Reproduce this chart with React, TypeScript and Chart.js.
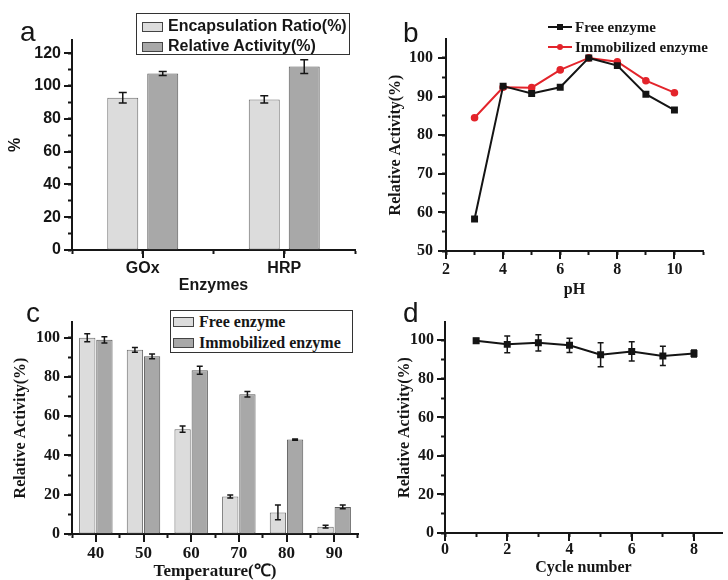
import React, { useEffect, useRef } from 'react';
import { Chart, registerables } from 'chart.js';

Chart.register(...registerables);

const ARIAL = '"Liberation Sans", Arial, sans-serif';
const TIMES = '"Liberation Serif", "Times New Roman", serif';
const INK = '#161616';

// ---------- Panel a ----------
const enzymes = ['GOx', 'HRP'];
const encapsulation = [92.8, 91.8];
const encapsulationErr = [3.2, 2.2];
const relActivityA = [107.6, 111.8];
const relActivityAErr = [1.2, 4.2];

// ---------- Panel b ----------
const pHValues = [3, 4, 5, 6, 7, 8, 9, 10];
const freeByPH = [58.3, 92.7, 90.8, 92.4, 100, 98.0, 90.6, 86.5];
const immobByPH = [84.5, 92.4, 92.3, 96.9, 100, 99.0, 94.1, 91.0];

// ---------- Panel c ----------
const temperatures = ['40', '50', '60', '70', '80', '90'];
const freeByT = [100, 93.8, 53.4, 19.1, 11.0, 3.7];
const freeByTErr = [2.0, 1.2, 1.6, 0.8, 3.8, 0.7];
const immobByT = [98.9, 90.5, 83.4, 71.2, 48.1, 13.8];
const immobByTErr = [1.6, 1.2, 2.0, 1.4, 0.3, 1.0];

// ---------- Panel d ----------
const cycles = [1, 2, 3, 4, 5, 6, 7, 8];
const reuseActivity = [99.8, 97.9, 98.7, 97.4, 92.5, 94.2, 91.9, 93.2];
const reuseErr = [1.2, 4.3, 4.2, 3.7, 6.2, 5.0, 5.0, 1.8];

// spread two categories over a 5-slot axis: '', A, '', B, ''
const spread = (arr: any[], empty: any) => {
  const out: any[] = [empty];
  arr.forEach((v) => { out.push(v); out.push(empty); });
  return out;
};

const MINOR = 4;
const MAJOR = 8;

function makeDecor(cap: number) {
  return {
    id: 'decor',
    afterDatasetsDraw(chart: any) {
      const ctx = chart.ctx;
      ctx.save();
      ctx.strokeStyle = INK;
      ctx.lineWidth = 1.5;
      // error bars
      chart.data.datasets.forEach((ds: any, di: number) => {
        if (!ds.errors) return;
        const meta = chart.getDatasetMeta(di);
        const ys = chart.scales[meta.yAxisID];
        meta.data.forEach((el: any, i: number) => {
          const err = ds.errors[i];
          const parsed = meta.controller.getParsed(i);
          if (err == null || !parsed || parsed.y == null || isNaN(parsed.y)) return;
          const x = el.x;
          const top = ys.getPixelForValue(parsed.y + err);
          const bot = ys.getPixelForValue(parsed.y - err);
          ctx.beginPath();
          ctx.moveTo(x, top); ctx.lineTo(x, bot);
          ctx.moveTo(x - cap, top); ctx.lineTo(x + cap, top);
          ctx.moveTo(x - cap, bot); ctx.lineTo(x + cap, bot);
          ctx.stroke();
        });
      });
      // longer tick marks where a label is shown
      ctx.fillStyle = INK;
      const xs = chart.scales.x;
      const ysc = chart.scales.y;
      (xs.ticks || []).forEach((t: any) => {
        if (t.label === '' || t.label == null) return;
        const p = xs.getPixelForValue(t.value);
        ctx.fillRect(Math.round(p) - 1, xs.top, 2, MAJOR);
      });
      (ysc.ticks || []).forEach((t: any) => {
        if (t.label === '' || t.label == null) return;
        const p = ysc.getPixelForValue(t.value);
        ctx.fillRect(ysc.right - MAJOR, Math.round(p) - 1, MAJOR, 2);
      });
      ctx.restore();
    },
  };
}

const border = { display: true, color: INK, width: 2 };
// native short tick marks outside the plot area
const tickGrid = (offset?: boolean) => ({
  display: true,
  drawOnChartArea: false,
  drawTicks: true,
  tickLength: MINOR,
  tickWidth: 2,
  tickColor: INK,
  color: 'rgba(0,0,0,0)',
  ...(offset === undefined ? {} : { offset }),
});
const font = (family: string, size: number) => ({ family, size, weight: 'bold' as const });

function base(padding: any) {
  return {
    responsive: false,
    animation: false,
    layout: { padding },
    plugins: {
      legend: { display: false },
      tooltip: { enabled: false },
    },
  };
}

const configA = () => ({
  type: 'bar',
  data: {
    labels: spread(enzymes, ''),
    datasets: [
      {
        label: 'Encapsulation Ratio(%)',
        data: spread(encapsulation, null),
        errors: spread(encapsulationErr, null),
        backgroundColor: '#dcdcdc',
        borderColor: '#6a6a6a',
        borderWidth: 1,
        borderSkipped: false,
        categoryPercentage: 1.13,
        barPercentage: 0.775,
      },
      {
        label: 'Relative Activity(%)',
        data: spread(relActivityA, null),
        errors: spread(relActivityAErr, null),
        backgroundColor: '#a8a8a8',
        borderColor: '#5a5a5a',
        borderWidth: 1,
        borderSkipped: false,
        categoryPercentage: 1.13,
        barPercentage: 0.775,
      },
    ],
  },
  options: {
    ...base({ left: 0, top: 40, right: 373, bottom: 285 }),
    scales: {
      x: {
        type: 'category',
        offset: false,
        grid: tickGrid(false),
        border,
        ticks: { autoSkip: false, maxRotation: 0, padding: 5, color: INK, font: font(ARIAL, 16) },
        title: { display: true, text: 'Enzymes', color: INK, font: font(ARIAL, 16), padding: { top: 0, bottom: 0 } },
        afterFit: (s: any) => { s.height = 45; },
      },
      y: {
        min: 0,
        max: 128,
        grid: tickGrid(),
        border,
        ticks: {
          stepSize: 10,
          includeBounds: false,
          autoSkip: false,
          padding: 7,
          color: INK,
          font: font(ARIAL, 16),
          callback: (v: number) => (v % 20 === 0 ? String(v) : ''),
        },
        title: { display: true, text: '%', color: INK, font: font(ARIAL, 16), padding: { top: 6, bottom: 0 } },
        afterFit: (s: any) => { s.width = 72; },
      },
    },
  },
  plugins: [makeDecor(4)],
});

const configB = () => ({
  type: 'line',
  data: {
    datasets: [
      {
        label: 'Free enzyme',
        data: pHValues.map((x, i) => ({ x, y: freeByPH[i] })),
        borderColor: '#141414',
        backgroundColor: '#141414',
        borderWidth: 2,
        pointStyle: 'rect',
        pointRadius: 3.5,
        tension: 0,
      },
      {
        label: 'Immobilized enzyme',
        data: pHValues.map((x, i) => ({ x, y: immobByPH[i] })),
        borderColor: '#e3242b',
        backgroundColor: '#e3242b',
        borderWidth: 2,
        pointStyle: 'circle',
        pointRadius: 2.8,
        tension: 0,
      },
    ],
  },
  options: {
    ...base({ left: 386, top: 39, right: 25, bottom: 281 }),
    scales: {
      x: {
        type: 'linear',
        min: 2,
        max: 11,
        grid: tickGrid(),
        border,
        ticks: {
          stepSize: 1,
          autoSkip: false,
          maxRotation: 0,
          padding: 5,
          color: INK,
          font: font(TIMES, 16),
          callback: (v: number) => (v % 2 === 0 ? String(v) : ''),
        },
        title: { display: true, text: 'pH', color: INK, font: font(TIMES, 16), padding: { top: 0, bottom: 0 } },
        afterFit: (s: any) => { s.height = 48; },
      },
      y: {
        min: 50,
        max: 104.9,
        grid: tickGrid(),
        border,
        ticks: {
          stepSize: 5,
          includeBounds: false,
          autoSkip: false,
          padding: 9,
          color: INK,
          font: font(TIMES, 16),
          callback: (v: number) => (v % 10 === 0 ? String(v) : ''),
        },
        title: { display: true, text: 'Relative Activity(%)', color: INK, font: font(TIMES, 16), padding: { top: 0, bottom: 0 } },
        afterFit: (s: any) => { s.width = 60; },
      },
    },
  },
  plugins: [makeDecor(3)],
});

const configC = () => ({
  type: 'bar',
  data: {
    labels: temperatures,
    datasets: [
      {
        label: 'Free enzyme',
        data: freeByT,
        errors: freeByTErr,
        backgroundColor: '#dcdcdc',
        borderColor: '#6a6a6a',
        borderWidth: 1,
        borderSkipped: false,
        categoryPercentage: 0.72,
        barPercentage: 0.95,
      },
      {
        label: 'Immobilized enzyme',
        data: immobByT,
        errors: immobByTErr,
        backgroundColor: '#a8a8a8',
        borderColor: '#5a5a5a',
        borderWidth: 1,
        borderSkipped: false,
        categoryPercentage: 0.72,
        barPercentage: 0.95,
      },
    ],
  },
  options: {
    ...base({ left: 0, top: 322, right: 370, bottom: 0 }),
    scales: {
      x: {
        type: 'category',
        grid: tickGrid(true),
        border,
        ticks: { autoSkip: false, maxRotation: 0, padding: 5, color: INK, font: font(TIMES, 17) },
        title: { display: true, text: 'Temperature(℃)', color: INK, font: font(TIMES, 17), padding: { top: 0, bottom: -2 } },
        afterFit: (s: any) => { s.height = 46; },
      },
      y: {
        min: 0,
        max: 108,
        grid: tickGrid(),
        border,
        ticks: {
          stepSize: 10,
          includeBounds: false,
          autoSkip: false,
          padding: 8,
          color: INK,
          font: font(TIMES, 16),
          callback: (v: number) => (v % 20 === 0 ? String(v) : ''),
        },
        title: { display: true, text: 'Relative Activity(%)', color: INK, font: font(TIMES, 16), padding: { top: 11, bottom: 0 } },
        afterFit: (s: any) => { s.width = 72; },
      },
    },
  },
  plugins: [makeDecor(3)],
});

const configD = () => ({
  type: 'line',
  data: {
    datasets: [
      {
        label: 'Immobilized enzyme',
        data: cycles.map((x, i) => ({ x, y: reuseActivity[i] })),
        errors: reuseErr,
        borderColor: '#141414',
        backgroundColor: '#141414',
        borderWidth: 2,
        pointStyle: 'rect',
        pointRadius: 3.5,
        tension: 0,
      },
    ],
  },
  options: {
    ...base({ left: 395, top: 322, right: 2, bottom: 3 }),
    scales: {
      x: {
        type: 'linear',
        min: 0,
        max: 8.9,
        grid: tickGrid(),
        border,
        ticks: {
          stepSize: 1,
          includeBounds: false,
          autoSkip: false,
          maxRotation: 0,
          padding: 3,
          color: INK,
          font: font(TIMES, 16),
          callback: (v: number) => (v % 2 === 0 ? String(v) : ''),
        },
        title: { display: true, text: 'Cycle number', color: INK, font: font(TIMES, 16), padding: { top: 0, bottom: 0 } },
        afterFit: (s: any) => { s.height = 44; },
      },
      y: {
        min: 0,
        max: 109.5,
        grid: tickGrid(),
        border,
        ticks: {
          stepSize: 10,
          includeBounds: false,
          autoSkip: false,
          padding: 7,
          color: INK,
          font: font(TIMES, 16),
          callback: (v: number) => (v % 20 === 0 ? String(v) : ''),
        },
        title: { display: true, text: 'Relative Activity(%)', color: INK, font: font(TIMES, 16), padding: { top: 0, bottom: 0 } },
        afterFit: (s: any) => { s.width = 50; },
      },
    },
  },
  plugins: [makeDecor(3)],
});

function ChartCanvas({ make }: { make: () => any }) {
  const ref = useRef<HTMLCanvasElement>(null);
  useEffect(() => {
    if (!ref.current) return;
    const chart = new Chart(ref.current, make());
    return () => chart.destroy();
  }, []);
  return (
    <canvas
      ref={ref}
      width={728}
      height={580}
      style={{ position: 'absolute', left: 0, top: 0, width: 728, height: 580 }}
    />
  );
}

const abs = (left: number, top: number, extra: any = {}) => ({ position: 'absolute' as const, left, top, ...extra });

function Letter({ ch, left, top }: { ch: string; left: number; top: number }) {
  return (
    <div style={abs(left, top, { font: `28px ${ARIAL}`, lineHeight: '28px', color: INK })}>{ch}</div>
  );
}

function TextAt({ text, left, cy, family, size }: { text: string; left: number; cy: number; family: string; size: number }) {
  return (
    <div
      style={abs(left, cy - 10, {
        height: 20,
        lineHeight: '20px',
        fontFamily: family,
        fontSize: size,
        fontWeight: 'bold',
        color: INK,
        whiteSpace: 'nowrap',
      })}
    >
      {text}
    </div>
  );
}

function Swatch({ left, cy, fill }: { left: number; cy: number; fill: string }) {
  return (
    <div
      style={abs(left, cy - 5, {
        width: 21,
        height: 10,
        boxSizing: 'border-box',
        background: fill,
        border: '1px solid #444',
      })}
    />
  );
}

function LineKey({ left, cy, color, round }: { left: number; cy: number; color: string; round: boolean }) {
  return (
    <>
      <div style={abs(left, cy - 1, { width: 24, height: 2, background: color })} />
      <div
        style={abs(left + 12 - 3, cy - 3, {
          width: 6,
          height: 6,
          background: color,
          borderRadius: round ? 3 : 0,
        })}
      />
    </>
  );
}

export default function App() {
  return (
    <div style={{ position: 'absolute', left: 0, top: 0, width: 728, height: 580, overflow: 'hidden', background: '#fff' }}>
      <ChartCanvas make={configA} />
      <ChartCanvas make={configB} />
      <ChartCanvas make={configC} />
      <ChartCanvas make={configD} />

      <Letter ch="a" left={20} top={18} />
      <Letter ch="b" left={403} top={19} />
      <Letter ch="c" left={26} top={299} />
      <Letter ch="d" left={403} top={299} />

      {/* legend a */}
      <div style={abs(136, 13, { width: 214, height: 42, boxSizing: 'border-box', border: '1px solid #333', background: '#fff' })} />
      <Swatch left={142} cy={27} fill="#dcdcdc" />
      <TextAt text="Encapsulation Ratio(%)" left={168} cy={26} family={ARIAL} size={16} />
      <Swatch left={142} cy={47} fill="#a8a8a8" />
      <TextAt text="Relative Activity(%)" left={168} cy={46} family={ARIAL} size={16} />

      {/* legend b */}
      <LineKey left={548} cy={27} color="#141414" round={false} />
      <TextAt text="Free enzyme" left={575} cy={27} family={TIMES} size={15} />
      <LineKey left={548} cy={47} color="#e3242b" round={true} />
      <TextAt text="Immobilized enzyme" left={575} cy={47} family={TIMES} size={15} />

      {/* legend c */}
      <div style={abs(170, 310, { width: 183, height: 43, boxSizing: 'border-box', border: '1px solid #333', background: '#fff' })} />
      <Swatch left={173} cy={322} fill="#dcdcdc" />
      <TextAt text="Free enzyme" left={199} cy={322} family={TIMES} size={16} />
      <Swatch left={173} cy={343} fill="#a8a8a8" />
      <TextAt text="Immobilized enzyme" left={199} cy={343} family={TIMES} size={16} />
    </div>
  );
}
